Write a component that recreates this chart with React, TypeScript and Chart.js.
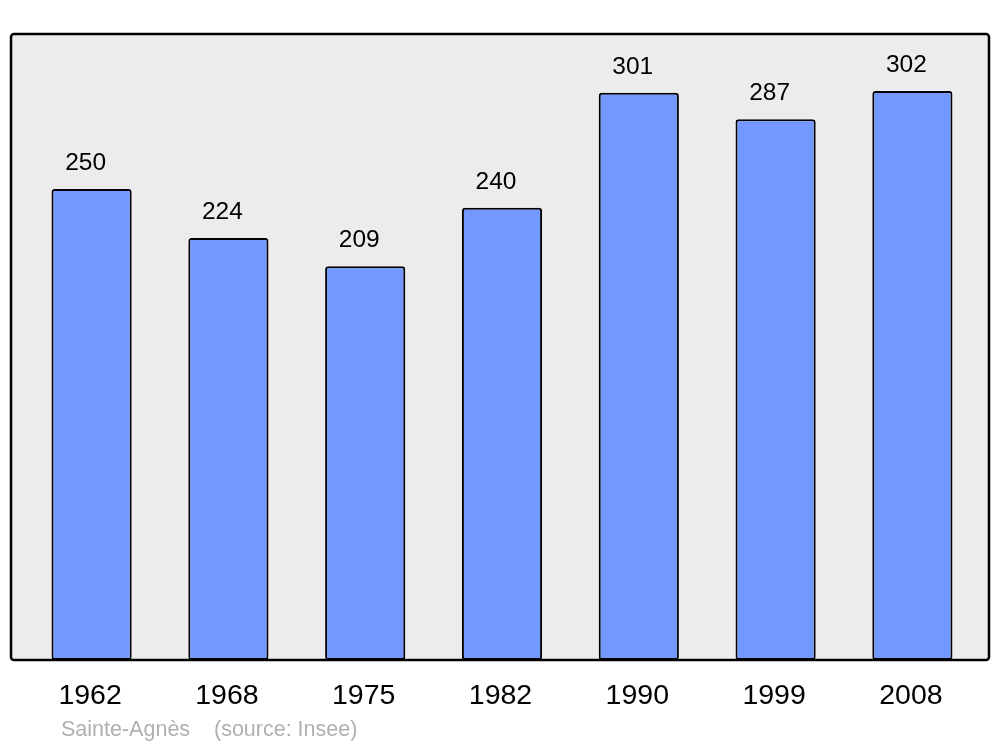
import React, { useEffect, useRef } from "react";
import { Chart, registerables } from "chart.js";

Chart.register(...registerables);

const years = ["1962", "1968", "1975", "1982", "1990", "1999", "2008"];
const population = [250, 224, 209, 240, 301, 287, 302];
const footer = "Sainte-Agnès    (source: Insee)";

const framePlugin = {
  id: "frame",
  beforeDatasetsDraw(chart: any) {
    const { ctx } = chart;
    ctx.save();
    ctx.fillStyle = "#ececec";
    ctx.beginPath();
    ctx.roundRect(11, 34, 978, 626, 3);
    ctx.fill();
    ctx.restore();
  },
  afterDatasetsDraw(chart: any) {
    const { ctx } = chart;
    ctx.save();
    ctx.strokeStyle = "#000";
    ctx.lineWidth = 2.5;
    ctx.beginPath();
    ctx.roundRect(11, 34, 978, 626, 3);
    ctx.stroke();

    const meta = chart.getDatasetMeta(0);
    ctx.fillStyle = "#000";
    ctx.textAlign = "center";
    ctx.textBaseline = "alphabetic";
    ctx.font = "24.5px 'Liberation Sans', Arial, sans-serif";
    meta.data.forEach((bar: any, i: number) => {
      ctx.fillText(String(population[i]), bar.x - 6, bar.y - 19);
    });
    ctx.font = "28.5px 'Liberation Sans', Arial, sans-serif";
    ctx.textBaseline = "middle";
    meta.data.forEach((bar: any, i: number) => {
      ctx.fillText(years[i], bar.x - 1.5, 696);
    });
    ctx.fillStyle = "#b0b0b0";
    ctx.textAlign = "left";
    ctx.font = "21.5px 'Liberation Sans', Arial, sans-serif";
    ctx.fillText(footer, 61, 730);
    ctx.restore();
  },
};

export default function App() {
  const ref = useRef<HTMLCanvasElement>(null);
  useEffect(() => {
    const chart = new Chart(ref.current!, {
      type: "bar",
      data: {
        labels: years,
        datasets: [
          {
            data: population,
            backgroundColor: "#7398ff",
            borderColor: "#000",
            borderWidth: 2,
            borderRadius: 3,
            borderSkipped: false,
            categoryPercentage: 1,
            barPercentage: 0.586,
          },
        ],
      },
      options: {
        animation: false,
        responsive: false,
        maintainAspectRatio: false,
        layout: { padding: { left: 23.2, right: 19.2, top: 34, bottom: 87 } },
        plugins: { legend: { display: false }, tooltip: { enabled: false } },
        scales: {
          x: { display: false },
          y: { display: false, min: 0, max: 332.2 },
        },
      },
      plugins: [framePlugin],
    });
    return () => chart.destroy();
  }, []);
  return (
    <div style={{ position: "fixed", left: 0, top: 0, width: 1000, height: 747, background: "#fff" }}>
      <canvas ref={ref} width={1000} height={747} style={{ width: 1000, height: 747 }} />
    </div>
  );
}
